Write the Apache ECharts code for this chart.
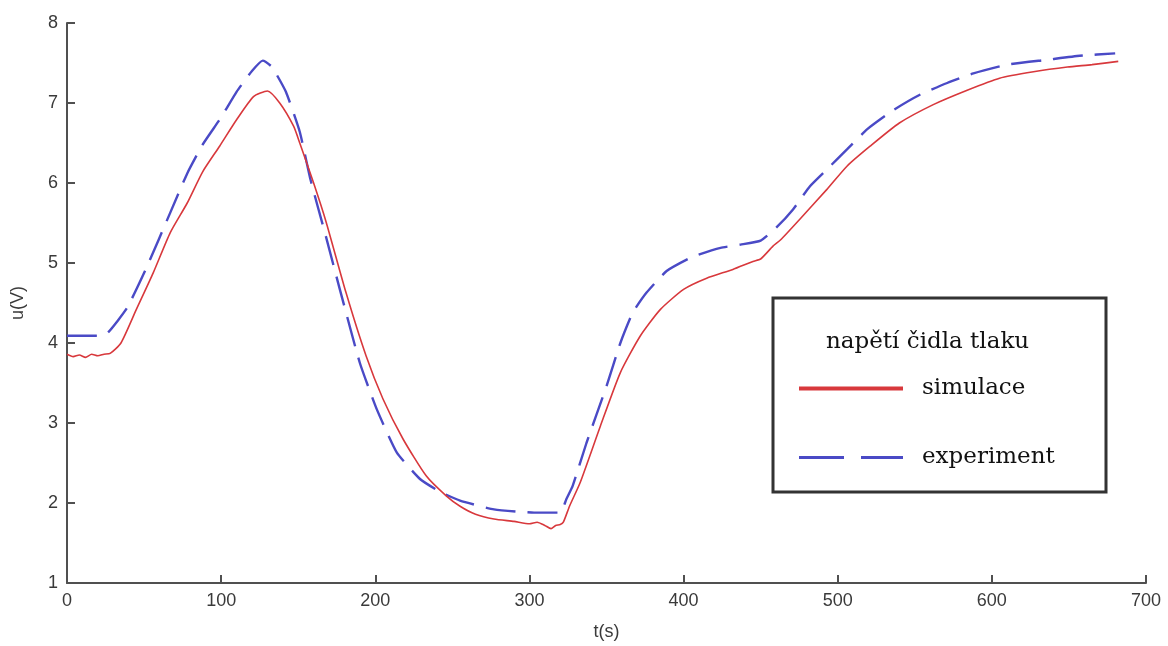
<!DOCTYPE html>
<html>
<head>
<meta charset="utf-8">
<script src="https://cdn.jsdelivr.net/npm/echarts@6/dist/echarts.min.js"></script>
<style>
html,body{margin:0;padding:0;background:#fff;}
#chart{width:1168px;height:646px;}
</style>
</head>
<body>
<div id="chart"></div>
<script>
// simulace (red): [t (s), u (V)]
const simTime = [0,4,8,12,16,20,24,28,35,45,56,67,78,88,99,110,121,130,138,147,151,160,168,181,194,205,218,233,246,255,265,277,290,300,305,310,314,317,320,322,326,333,346,359,372,385,400,415,432,445,450,458,463,476,493,506,521,540,562,584,605,627,649,665,682];
const simValue = [3.86,3.83,3.85,3.82,3.86,3.84,3.86,3.87,4.00,4.42,4.88,5.38,5.75,6.14,6.46,6.79,7.08,7.15,7.00,6.71,6.50,6.00,5.52,4.63,3.84,3.30,2.80,2.34,2.09,1.96,1.86,1.80,1.77,1.74,1.76,1.72,1.68,1.72,1.73,1.76,1.96,2.26,2.96,3.63,4.09,4.42,4.67,4.81,4.92,5.02,5.05,5.21,5.29,5.56,5.92,6.21,6.46,6.75,6.98,7.16,7.31,7.39,7.45,7.48,7.52];

// experiment (blue dashed): [t (s), u (V)]
const expTime = [0,18,26,39,52,67,78,88,100,110,120,127,133,142,151,158,168,177,190,201,214,229,242,255,277,303,320,324,328,337,350,359,367,376,389,406,424,437,450,460,471,482,493,506,519,536,553,571,588,610,636,657,680];
const expValue = [4.09,4.09,4.12,4.44,4.96,5.63,6.12,6.48,6.82,7.14,7.40,7.53,7.45,7.14,6.64,6.04,5.33,4.67,3.75,3.17,2.63,2.30,2.14,2.03,1.92,1.88,1.88,2.05,2.21,2.75,3.46,4.00,4.38,4.63,4.90,5.08,5.19,5.23,5.28,5.44,5.67,5.96,6.17,6.42,6.67,6.91,7.10,7.25,7.37,7.48,7.54,7.59,7.62];

const seriesNames = ['simulace', 'experiment'];
const legendTitle = 'napětí čidla tlaku';
const xName = 't(s)';
const yName = 'u(V)';

const simData = simTime.map((t, i) => [t, simValue[i]]);
const expData = expTime.map((t, i) => [t, expValue[i]]);

const RED = '#d8383c';
const BLUE = '#4a4ac6';
const AXIS = '#505050';
const LABEL = '#3a3a3a';

const chart = echarts.init(document.getElementById('chart'), null, {renderer: 'canvas'});
chart.setOption({
  animation: false,
  backgroundColor: '#ffffff',
  grid: {left: 67, right: 22, top: 23, bottom: 62, containLabel: false},
  xAxis: {
    type: 'value', min: 0, max: 700, interval: 100,
    name: xName, nameLocation: 'middle', nameGap: 40,
    nameTextStyle: {fontFamily: 'Liberation Sans', fontSize: 18, color: LABEL},
    axisLine: {show: true, lineStyle: {color: AXIS, width: 2}},
    axisTick: {show: true, inside: true, length: 8, lineStyle: {color: AXIS, width: 2}},
    axisLabel: {fontFamily: 'Liberation Sans', fontSize: 18, color: LABEL, margin: 9},
    splitLine: {show: false}
  },
  yAxis: {
    type: 'value', min: 1, max: 8, interval: 1,
    name: yName, nameLocation: 'middle', nameGap: 40, nameRotate: 90,
    nameTextStyle: {fontFamily: 'Liberation Sans', fontSize: 18, color: LABEL},
    axisLine: {show: true, lineStyle: {color: AXIS, width: 2}},
    axisTick: {show: true, inside: true, length: 8, lineStyle: {color: AXIS, width: 2}},
    axisLabel: {fontFamily: 'Liberation Sans', fontSize: 18, color: LABEL, margin: 9},
    splitLine: {show: false}
  },
  graphic: [{
    type: 'rect', z: 5,
    shape: {x: 773, y: 298, width: 333, height: 194},
    style: {fill: '#ffffff', stroke: '#333333', lineWidth: 3}
  }],
  title: {
    text: legendTitle, left: 826, top: 328, padding: 0, z: 10,
    textStyle: {fontFamily: 'DejaVu Serif', fontSize: 23, fontWeight: 'normal', color: '#111', lineHeight: 28}
  },
  legend: {
    orient: 'vertical', left: 797, top: 377, padding: 0, z: 10,
    itemWidth: 104, itemHeight: 20, itemGap: 46,
    itemStyle: {opacity: 0, borderWidth: 0, color: 'rgba(0,0,0,0)'},
    textStyle: {fontFamily: 'DejaVu Serif', fontSize: 23, color: '#111', padding: [0, 0, 0, 14], lineHeight: 20},
    data: [
      {name: seriesNames[0], lineStyle: {width: 4, color: RED}, itemStyle: {opacity: 0, color: 'rgba(0,0,0,0)', borderWidth: 0}},
      {name: seriesNames[1], lineStyle: {width: 3, color: BLUE, type: [45, 17]}, itemStyle: {opacity: 0, color: 'rgba(0,0,0,0)', borderWidth: 0}}
    ]
  },
  series: [
    {
      name: seriesNames[0], type: 'line', data: simData,
      showSymbol: false, symbol: 'none', smooth: 0.2,
      lineStyle: {color: RED, width: 1.6}, itemStyle: {color: RED}, z: 3
    },
    {
      name: seriesNames[1], type: 'line', data: expData,
      showSymbol: false, symbol: 'none', smooth: 0.15,
      lineStyle: {color: BLUE, width: 2.4, type: [30, 12]}, itemStyle: {color: BLUE}, z: 2
    }
  ]
});
</script>
</body>
</html>
